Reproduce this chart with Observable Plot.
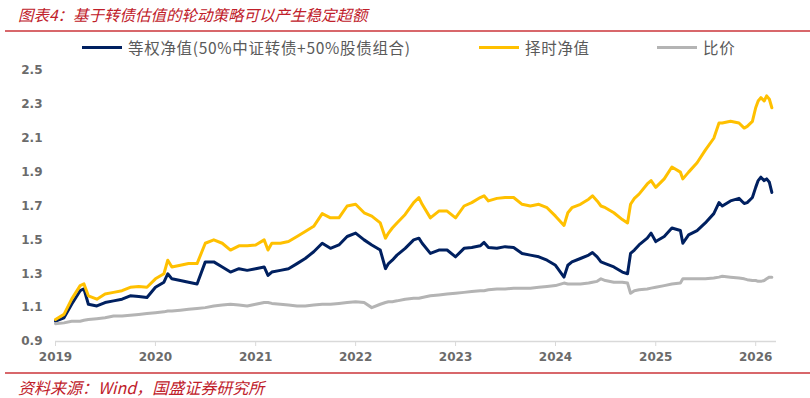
<!DOCTYPE html>
<html>
<head>
<meta charset="utf-8">
<script src="https://cdn.jsdelivr.net/npm/d3@7"></script>
<script src="https://cdn.jsdelivr.net/npm/@observablehq/plot@0.6"></script>
<style>
  html, body { margin: 0; padding: 0; background: #fff; }
  #wrap { position: relative; width: 810px; height: 398px; overflow: hidden; font-family: "Noto Sans CJK SC", "Noto Sans", sans-serif; }
  #chart { position: absolute; left: 0; top: 0; }
  .title { position: absolute; left: 18px; top: 3px; font-size: 15.5px; font-style: italic; color: #c0202a; white-space: nowrap; }
  .rule { position: absolute; left: 5px; right: 0; height: 2px; background: #d8676b; }
  .legend { position: absolute; top: 37px; left: 0; height: 20px; font-size: 15.5px; color: #5a5a5a; white-space: nowrap; letter-spacing: 0.7px; }
  .item { position: absolute; top: 0; display: flex; align-items: center; height: 20px; }
  .sw { width: 40px; height: 3px; margin-right: 6px; }
  .source { position: absolute; left: 18px; top: 375px; font-size: 16px; font-style: italic; color: #c0202a; white-space: nowrap; }
</style>
</head>
<body>
<div id="wrap">
  <div class="title">图表4：基于转债估值的轮动策略可以产生稳定超额</div>
  <div class="rule" style="top:30px"></div>
  <div class="legend" id="legend"></div>
  <div id="chart"></div>
  <div class="rule" style="top:372px"></div>
  <div class="source">资料来源：Wind，国盛证券研究所</div>
</div>
<script>
// Observation dates (month starts plus a few intra-month turning points)
const dates = [
  "2019-01-01","2019-02-01","2019-03-01","2019-04-01","2019-04-15","2019-05-01","2019-06-01","2019-07-01","2019-08-01","2019-09-01","2019-10-01","2019-11-01","2019-12-01",
  "2020-01-01","2020-02-01","2020-02-15","2020-03-01","2020-04-01","2020-05-01","2020-06-01","2020-07-01","2020-08-01","2020-09-01","2020-10-01","2020-11-01","2020-12-01",
  "2021-01-01","2021-02-01","2021-02-15","2021-03-01","2021-04-01","2021-05-01","2021-06-01","2021-07-01","2021-08-01","2021-09-01","2021-10-01","2021-11-01","2021-12-01",
  "2022-01-01","2022-02-01","2022-03-01","2022-04-01","2022-04-20","2022-05-01","2022-05-15","2022-06-01","2022-07-01","2022-08-01","2022-08-20","2022-09-01","2022-10-01","2022-11-01","2022-12-01",
  "2023-01-01","2023-02-01","2023-03-01","2023-04-01","2023-04-15","2023-05-01","2023-06-01","2023-07-01","2023-08-01","2023-09-01","2023-10-01","2023-11-01","2023-12-01",
  "2024-01-01","2024-02-01","2024-02-15","2024-03-01","2024-04-01","2024-05-01","2024-05-15","2024-06-01","2024-06-15","2024-07-01","2024-08-01","2024-09-01","2024-09-20","2024-10-01","2024-10-15","2024-11-01","2024-12-01","2024-12-15",
  "2025-01-01","2025-02-01","2025-03-01","2025-04-01","2025-04-10","2025-05-01","2025-06-01","2025-07-01","2025-08-01","2025-08-20","2025-09-01","2025-10-01","2025-11-01","2025-11-20","2025-12-01","2025-12-20",
  "2026-01-01","2026-01-10","2026-01-20","2026-02-01","2026-02-10","2026-02-20","2026-03-01"
];

// 等权净值 (50%中证转债 + 50%股债组合)
const equalNav = [
  1.02,1.04,1.12,1.20,1.21,1.12,1.11,1.13,1.14,1.15,1.17,1.165,1.16,
  1.22,1.25,1.30,1.27,1.26,1.25,1.24,1.37,1.37,1.34,1.31,1.33,1.32,
  1.33,1.34,1.29,1.31,1.32,1.33,1.36,1.39,1.43,1.48,1.45,1.47,1.52,
  1.54,1.50,1.47,1.44,1.33,1.36,1.38,1.41,1.45,1.50,1.51,1.48,1.42,1.44,1.44,
  1.40,1.45,1.455,1.465,1.485,1.455,1.45,1.46,1.455,1.42,1.41,1.40,1.38,
  1.35,1.28,1.35,1.37,1.39,1.41,1.425,1.40,1.37,1.36,1.34,1.31,1.30,1.42,1.44,1.47,1.51,1.54,
  1.49,1.52,1.57,1.555,1.48,1.53,1.555,1.60,1.655,1.72,1.70,1.73,1.745,1.715,1.72,1.75,
  1.81,1.85,1.87,1.85,1.86,1.84,1.78
];

// 择时净值
const timingNav = [
  1.03,1.06,1.15,1.23,1.24,1.17,1.15,1.18,1.19,1.20,1.22,1.225,1.22,
  1.27,1.30,1.38,1.34,1.35,1.36,1.36,1.48,1.50,1.48,1.44,1.465,1.465,
  1.47,1.50,1.44,1.48,1.48,1.49,1.52,1.55,1.58,1.655,1.63,1.63,1.70,
  1.71,1.66,1.64,1.60,1.51,1.54,1.57,1.60,1.65,1.72,1.75,1.71,1.63,1.67,1.67,
  1.63,1.70,1.72,1.75,1.76,1.73,1.745,1.75,1.75,1.71,1.70,1.71,1.69,
  1.64,1.585,1.66,1.69,1.71,1.74,1.76,1.73,1.70,1.69,1.66,1.62,1.60,1.71,1.745,1.77,1.83,1.85,
  1.81,1.86,1.93,1.90,1.86,1.90,1.955,2.03,2.10,2.19,2.19,2.20,2.19,2.16,2.17,2.20,
  2.28,2.32,2.34,2.32,2.35,2.33,2.28
];

// 比价
const ratio = [
  1.005,1.01,1.02,1.02,1.025,1.03,1.035,1.04,1.05,1.05,1.055,1.06,1.065,
  1.07,1.075,1.08,1.08,1.085,1.09,1.095,1.10,1.11,1.115,1.12,1.115,1.11,
  1.12,1.13,1.13,1.125,1.12,1.115,1.11,1.11,1.115,1.12,1.12,1.125,1.13,
  1.135,1.13,1.10,1.12,1.13,1.135,1.135,1.14,1.15,1.155,1.155,1.16,1.17,1.175,1.18,
  1.185,1.19,1.195,1.20,1.20,1.205,1.21,1.21,1.215,1.215,1.215,1.22,1.225,
  1.23,1.245,1.24,1.24,1.24,1.245,1.25,1.255,1.27,1.26,1.25,1.25,1.245,1.185,1.20,1.205,1.21,1.215,
  1.22,1.23,1.24,1.245,1.27,1.27,1.27,1.27,1.275,1.28,1.285,1.28,1.275,1.27,1.265,1.26,
  1.26,1.255,1.255,1.26,1.27,1.28,1.28
];

const yTicks = [0.9, 1.1, 1.3, 1.5, 1.7, 1.9, 2.1, 2.3, 2.5];
const xTickYears = [2019, 2020, 2021, 2022, 2023, 2024, 2025, 2026];

const seriesNames = ["等权净值(50%中证转债+50%股债组合)", "择时净值", "比价"];
const seriesColors = ["#002060", "#FFC000", "#B4B4B4"];

const parse = d3.utcParse("%Y-%m-%d");
const rows = [];
[equalNav, timingNav, ratio].forEach((vals, i) => {
  vals.forEach((v, j) => rows.push({date: parse(dates[j]), value: v, series: seriesNames[i]}));
});

const chart = Plot.plot({
  width: 810,
  height: 398,
  marginTop: 70,
  marginBottom: 57,
  marginLeft: 55,
  marginRight: 34,
  style: {fontFamily: "DejaVu Sans", fontSize: "12px", fontWeight: "bold", color: "#6b6b6b", background: "transparent"},
  x: {type: "utc", domain: [new Date(Date.UTC(2019, 0, 1)), new Date(Date.UTC(2026, 2, 18))]},
  y: {domain: [0.9, 2.5]},
  color: {domain: seriesNames, range: seriesColors},
  marks: [
    Plot.ruleY([0.9], {stroke: "#d9d9d9", strokeWidth: 1.5}),
    Plot.axisY({ticks: yTicks, tickSize: 0, tickPadding: 13, tickFormat: d3.format(".1f"), label: null, fill: "#6b6b6b"}),
    Plot.axisX({ticks: xTickYears.map(y => new Date(Date.UTC(y, 0, 1))), tickFormat: d3.utcFormat("%Y"), tickSize: 5, tickPadding: 6, stroke: "#d9d9d9", label: null, fill: "#6b6b6b"}),
    Plot.lineY(rows, {x: "date", y: "value", z: "series", stroke: "series", strokeWidth: 3, curve: "linear"})
  ]
});
document.getElementById("chart").appendChild(chart);

// Legend row
const legendPos = [82, 479, 657];
const legend = document.getElementById("legend");
seriesNames.forEach((name, i) => {
  const item = document.createElement("div");
  item.className = "item";
  item.style.left = legendPos[i] + "px";
  item.innerHTML = `<span class="sw" style="background:${seriesColors[i]}"></span><span>${name}</span>`;
  legend.appendChild(item);
});
</script>
</body>
</html>
